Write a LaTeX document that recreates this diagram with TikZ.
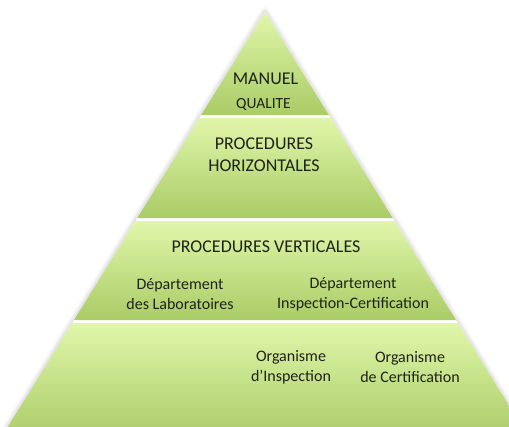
\documentclass[tikz,border=0pt]{standalone}
\usepackage{fontspec}
\setmainfont{Carlito}
\definecolor{ltop}{RGB}{224,246,170}
\definecolor{lbot}{RGB}{170,204,102}
\definecolor{txt}{RGB}{30,34,24}
\newcommand\pyrlayer[2]{%
  \shade[top color=ltop, bottom color=lbot]
    ({265-0.62*(#1-12)},#1) -- ({265+0.62*(#1-12)},#1) -- ({265+0.62*(#2-12)},#2) -- ({265-0.62*(#2-12)},#2) -- cycle;}
\begin{document}
\begin{tikzpicture}[x=1pt,y=-1pt,
  big/.style={font=\fontsize{18}{22}\selectfont, text=txt, align=center, inner sep=0pt},
  mid/.style={font=\fontsize{15.5}{18}\selectfont, text=txt, align=center, inner sep=0pt},
  small/.style={font=\fontsize{16}{20}\selectfont, text=txt, align=center, inner sep=0pt}]
\useasboundingbox (0,0) rectangle (509,426);
\clip (0,0) rectangle (509,426);
\fill[white] (0,0) rectangle (509,426);
\foreach \w/\o in {10/0.025,7/0.035,4/0.045}{%
  \draw[line width=\w pt, black, opacity=\o, line join=round]
    (265,12) -- (530,440) -- (0,440) -- cycle;}
\fill[white] (265,12) -- (530,440) -- (0,440) -- cycle;
\pyrlayer{12}{115}
\pyrlayer{118}{218}
\pyrlayer{221}{320}
\pyrlayer{323}{440}
\node[big] (manuel) at (265.5,79) {MANUEL};
\node[mid] (qualite) at (263.5,104) {QUALITE};
\node[big] (horiz) at (264,155) {PROCEDURES\\HORIZONTALES};
\node[big] (vert) at (266,247) {PROCEDURES VERTICALES};
\node[small] (labo) at (180,294) {Département\\des Laboratoires};
\node[small] (insp) at (353,294) {Département\\Inspection-Certification};
\node[small] (orgi) at (291,367) {Organisme\\d’Inspection};
\node[small] (orgc) at (410,367) {Organisme\\de Certification};
\end{tikzpicture}
\end{document}
